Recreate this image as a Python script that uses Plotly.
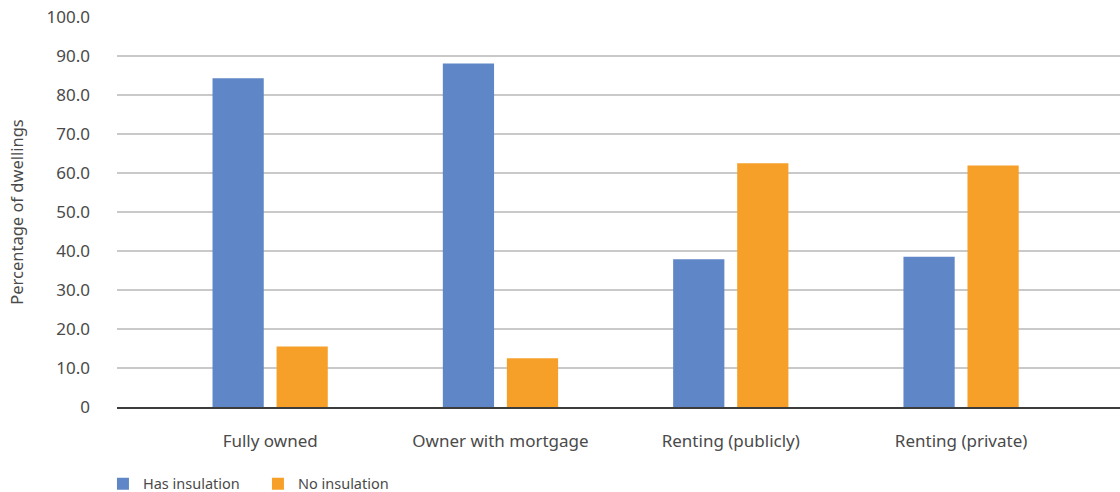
import plotly.graph_objects as go

# Dwelling tenure categories and insulation shares (%)
categories = ["Fully owned", "Owner with mortgage", "Renting (publicly)", "Renting (private)"]
has_insulation = [84.3, 88.1, 37.9, 38.5]
no_insulation = [15.5, 12.5, 62.5, 61.9]

y_tick_values = [0, 10, 20, 30, 40, 50, 60, 70, 80, 90, 100]
y_tick_labels = ["0", "10.0", "20.0", "30.0", "40.0", "50.0", "60.0", "70.0", "80.0", "90.0", "100.0"]

BLUE = "#5f86c6"
ORANGE = "#f6a02a"
TEXT = "#4a4a4a"
FONT = "Noto Sans, DejaVu Sans, sans-serif"

fig = go.Figure()
fig.add_trace(go.Bar(x=categories, y=has_insulation, name="Has insulation",
                     marker=dict(color=BLUE, line=dict(width=0))))
fig.add_trace(go.Bar(x=categories, y=no_insulation, name="No insulation",
                     marker=dict(color=ORANGE, line=dict(width=0))))

fig.update_layout(
    width=1120, height=492,
    margin=dict(l=117, r=0, t=17, b=85, autoexpand=False),
    paper_bgcolor="white", plot_bgcolor="white",
    barmode="group", bargap=0.444, bargroupgap=0.2,
    font=dict(family=FONT, color=TEXT, size=14),
    showlegend=True,
    legend=dict(orientation="h", x=-0.014, xanchor="left", y=-0.156, yanchor="top",
                font=dict(size=14.5, color=TEXT), itemwidth=30,
                entrywidth=110, entrywidthmode="pixels",
                traceorder="normal", itemsizing="constant"),
    xaxis=dict(
        range=[-0.665, 3.69],
        showgrid=False, showline=True, linecolor="#3c3c3c", linewidth=2,
        ticks="", tickfont=dict(size=17, color=TEXT), ticklabelstandoff=18,
    ),
    yaxis=dict(
        range=[0, 100],
        tickvals=y_tick_values, ticktext=y_tick_labels,
        showgrid=True, gridcolor="#c9c9c9", gridwidth=1.5,
        zeroline=False, showline=False, ticks="",
        tickfont=dict(size=17, color=TEXT), ticklabelstandoff=26,
        title=dict(text="Percentage of dwellings", font=dict(size=16.5, color=TEXT), standoff=18),
    ),
)

fig.write_html("out.html")
